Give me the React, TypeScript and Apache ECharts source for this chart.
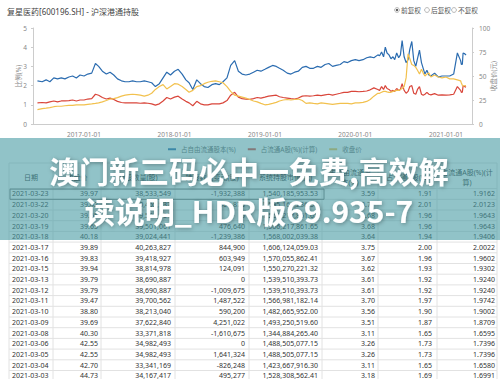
import React, { useEffect, useRef } from 'react';
import * as echarts from 'echarts';

const dates = [
  '2016-06-27','2016-07-16','2016-08-01','2016-08-16','2016-09-01','2016-09-16','2016-10-01','2016-10-16','2016-11-01','2016-11-16','2016-12-01','2016-12-16',
  '2017-01-01','2017-01-16','2017-02-01','2017-02-16','2017-03-01','2017-03-16','2017-04-01','2017-04-16','2017-05-01','2017-05-16','2017-06-01','2017-06-16',
  '2017-07-01','2017-07-16','2017-08-01','2017-08-16','2017-09-01','2017-09-16','2017-10-01','2017-10-16','2017-11-01','2017-11-16','2017-12-01','2017-12-16',
  '2018-01-01','2018-01-16','2018-02-01','2018-02-16','2018-03-01','2018-03-16','2018-04-01','2018-04-16','2018-05-01','2018-05-16','2018-06-01','2018-06-16',
  '2018-07-01','2018-07-16','2018-08-01','2018-08-16','2018-09-01','2018-09-16','2018-10-01','2018-10-16','2018-11-01','2018-11-16','2018-12-01','2018-12-16',
  '2019-01-01','2019-01-16','2019-02-01','2019-02-16','2019-03-01','2019-03-16','2019-04-01','2019-04-16','2019-05-01','2019-05-16','2019-06-01','2019-06-16',
  '2019-07-01','2019-07-16','2019-08-01','2019-08-16','2019-09-01','2019-09-16','2019-10-01','2019-10-16','2019-11-01','2019-11-16','2019-12-01','2019-12-16',
  '2020-01-01','2020-01-16','2020-02-01','2020-02-16','2020-03-01','2020-03-16',
  '2020-04-01','2020-04-08','2020-04-16','2020-04-24','2020-05-01','2020-05-08','2020-05-16','2020-05-24','2020-06-01','2020-06-08','2020-06-16','2020-06-24',
  '2020-07-01','2020-07-08','2020-07-16','2020-07-24','2020-08-01','2020-08-08','2020-08-16','2020-08-24','2020-09-01','2020-09-08','2020-09-16','2020-09-24',
  '2020-10-01','2020-10-08','2020-10-16','2020-10-24','2020-11-01','2020-11-16','2020-12-01','2020-12-16',
  '2021-01-01','2021-01-16','2021-02-01','2021-02-16','2021-03-01','2021-03-04','2021-03-08','2021-03-11','2021-03-16','2021-03-23'
];

const freeFloatPct = [
  2.25,2.2,2.3,2.2,2.4,2.35,2.4,2.35,2.45,2.5,2.4,2.55,
  2.5,2.6,2.65,3.15,3.0,2.75,2.6,2.7,2.55,2.35,2.25,2.2,
  2.2,2.25,2.2,2.2,2.25,2.2,2.15,1.95,2.1,2.4,2.7,2.55,
  2.75,2.85,2.6,2.3,2.15,1.8,2.3,2.1,1.95,1.9,2.05,2.1,
  2.05,2.2,2.4,3.05,3.3,2.75,2.6,2.55,2.6,2.7,2.8,2.75,
  2.85,2.95,3.05,3.0,2.9,2.8,2.65,2.6,2.7,2.75,2.95,3.0,
  2.9,2.9,3.0,2.95,3.1,3.15,3.0,3.05,3.1,3.25,3.2,3.3,
  3.35,3.3,3.35,3.45,3.5,3.45,
  3.6,3.55,3.75,3.5,4.0,3.7,3.6,3.4,3.5,3.35,3.7,3.45,
  3.6,4.35,3.5,3.2,3.35,3.9,4.3,3.3,3.0,3.4,3.85,3.2,
  2.9,2.6,2.8,2.55,2.5,2.65,2.45,2.5,
  2.5,2.5,2.6,3.7,3.3,3.11,3.11,3.7,3.67,3.59
];

const aSharePct = [
  1.1,1.12,1.1,1.15,1.2,1.15,1.2,1.2,1.22,1.25,1.2,1.25,
  1.25,1.3,1.32,1.55,1.5,1.38,1.3,1.35,1.28,1.18,1.12,1.1,
  1.1,1.1,1.1,1.08,1.1,1.08,1.05,0.98,1.05,1.2,1.38,1.3,
  1.4,1.45,1.3,1.18,1.1,0.95,1.18,1.05,1.0,1.0,1.05,1.05,
  1.05,1.1,1.22,1.5,1.65,1.4,1.32,1.3,1.28,1.32,1.38,1.35,
  1.4,1.45,1.48,1.5,1.42,1.38,1.35,1.32,1.3,1.35,1.45,1.47,
  1.45,1.47,1.5,1.48,1.52,1.55,1.5,1.55,1.6,1.65,1.65,1.7,
  1.7,1.68,1.7,1.72,1.78,1.88,
  1.8,1.75,1.95,1.8,2.0,1.85,1.8,1.7,1.75,1.7,1.85,1.75,
  1.8,2.1,1.75,1.6,1.7,1.95,2.0,1.6,1.55,1.8,1.95,1.55,
  1.5,1.55,1.65,1.55,1.52,1.58,1.5,1.52,
  1.5,1.52,1.55,1.95,1.75,1.65,1.66,1.97,1.96,1.91
];

const closePrice = [
  15,16,16.5,17,18,18.5,18.5,19,19.5,19.5,20,20,
  20,20.5,21,21.5,22,23,24.5,26,26.5,27.5,29,30,
  30.5,31,30.5,30,29,30,32,36,39,41,36.5,39,
  42,41.5,39,36,33,35,39,40,42,43.5,44.5,45,
  44,43,39,34,30,29,28,27,25.5,24,23,21.5,
  20,20.5,21.5,22.5,24,25,25.5,25,25.5,26,24.5,21.5,
  22,21.5,21,22,21.5,21,20.5,21,21.5,21.5,21.5,21,
  22,22,22.5,23.5,25.5,29,
  32,32,33,34,34,33.5,33,33,34,34.5,35,35,
  36,37,39,48,73,68,62,61,59,56,52,57,
  53,50,52,53,49,51,49,48,
  49,47,47,46,45,42.7,40.3,39.47,39.83,39.97
];

const legendNames = ['占自由流通股本(%)', '占流通A股(%)(计算)', '收盘价'];
const seriesColors = ['#2b6cb0', '#d9463b', '#f2c14e'];

const tableHeaders = [['日期'], ['收盘价'], ['持股数量(股)'], ['持股数量变动(股)'], ['系统持股市值(元)'], ['占自由流通股', '本(%)'], ['占流通A股(%)'], ['占流通A股(%)(计', '算)']];
const tableDates = ['2021-03-23','2021-03-22','2021-03-20','2021-03-19','2021-03-18','2021-03-17','2021-03-16','2021-03-15','2021-03-13','2021-03-12','2021-03-11','2021-03-10','2021-03-09','2021-03-08','2021-03-06','2021-03-05','2021-03-04','2021-03-03'];
const tableClose = ['39.97','39.42','39.65','39.65','40.18','39.89','39.83','39.94','39.79','39.79','39.47','38.80','39.69','40.30','42.55','42.55','42.70','44.73'];
const tableShares = ['38,533,549','40,465,937','39,501,061','39,501,061','39,024,441','40,263,827','39,418,927','38,814,978','38,690,887','38,690,887','39,700,562','38,213,040','37,622,840','33,371,818','34,982,493','34,982,493','33,341,169','34,167,417'];
const tableChange = ['-1,932,388','964,876','0','476,640','-1,239,386','844,900','603,949','124,091','0','-1,009,675','1,487,522','590,200','4,251,022','-1,610,675','0','1,641,324','-826,248','495,277'];
const tableValue = ['1,540,185,953.53','1,595,167,236.54','1,566,217,861.65','1,566,217,861.65','1,568,002,039.38','1,606,124,059.03','1,570,055,862.41','1,550,270,221.32','1,539,510,393.73','1,539,510,393.73','1,566,981,182.14','1,482,665,952.00','1,493,250,519.60','1,344,884,265.40','1,488,505,077.15','1,488,505,077.15','1,423,667,916.30','1,528,308,562.41'];
const tableFree = ['3.59','3.77','3.68','3.68','3.64','3.75','3.67','3.62','3.61','3.61','3.70','3.56','3.51','3.11','3.26','3.26','3.11','3.18'];
const tableA = ['1.91','2.01','1.96','1.96','1.94','2.00','1.96','1.93','1.92','1.92','1.97','1.90','1.87','1.65','1.73','1.73','1.65','1.69'];
const tableACalc = ['1.9162','2.0123','1.9643','1.9643','1.9406','2.0022','1.9602','1.9302','1.9240','1.9240','1.9742','1.9002','1.8709','1.6595','1.7396','1.7396','1.6580','1.6991'];

const FONT = '"Noto Sans", "Noto Sans CJK SC", sans-serif';
const CJK = '"Noto Sans CJK SC", "Noto Sans", sans-serif';

function txt(x: number, y: number, text: string, size: number, fill: string, align: string, z = 10, extra: any = {}) {
  return {
    type: 'text', x, y, z, silent: true,
    style: {
      text, fill, fontSize: size, fontFamily: FONT,
      align, textAlign: align, verticalAlign: 'middle', textVerticalAlign: 'middle',
      ...extra,
    },
  };
}

function buildGraphic() {
  const els: any[] = [];
  els.push(txt(7, 11, '复星医药[600196.SH] - 沪深港通持股', 8, '#444', 'left'));
  const radios = [[397, '前复权'], [427, '后复权'], [454, '不复权']] as [number, string][];
  radios.forEach(([cx, label], i) => {
    els.push({ type: 'circle', z: 10, shape: { cx, cy: 10, r: 2.4 }, style: { fill: '#fff', stroke: '#999', lineWidth: 0.7 } });
    if (i === 0) els.push({ type: 'circle', z: 11, shape: { cx, cy: 10, r: 1.2 }, style: { fill: '#555' } });
    els.push(txt(cx + 4, 10, label, 6.7, '#555', 'left'));
  });

  const bounds = [9, 53, 101, 175, 249, 322, 378, 437, 497];
  const headTop = 163;
  const rowTop = 188.6;
  const rowH = 10.7;
  const nRows = tableDates.length;
  const lineColor = '#e2e2e2';
  els.push({ type: 'line', z: 5, shape: { x1: bounds[0], y1: headTop, x2: bounds[8], y2: headTop }, style: { stroke: lineColor, lineWidth: 1 } });
  for (let i = 0; i <= nRows; i++) {
    const y = rowTop + rowH * i;
    els.push({ type: 'line', z: 5, shape: { x1: bounds[0], y1: y, x2: bounds[8], y2: y }, style: { stroke: lineColor, lineWidth: 1 } });
  }
  bounds.forEach((bx) => {
    els.push({ type: 'line', z: 5, shape: { x1: bx, y1: headTop, x2: bx, y2: 379 }, style: { stroke: lineColor, lineWidth: 1 } });
  });
  tableHeaders.forEach((lines, c) => {
    const cx = c === 0 ? 31 : (bounds[c] + bounds[c + 1]) / 2;
    if (lines.length === 1) {
      els.push(txt(cx, 177, lines[0], 7, '#333', 'center'));
    } else {
      els.push(txt(cx, 172, lines[0], 7, '#333', 'center'));
      els.push(txt(cx, 182, lines[1], 7, '#333', 'center'));
    }
  });
  const cols = [tableClose, tableShares, tableChange, tableValue, tableFree, tableA, tableACalc];
  const rights = [98, 171, 245, 318, 375, 432, 495];
  for (let r = 0; r < nRows; r++) {
    const y = rowTop + rowH * r + rowH / 2;
    els.push(txt(12, y, tableDates[r], 7, '#333', 'left'));
    cols.forEach((col, c) => {
      els.push(txt(rights[c], y, col[r], 7, '#333', 'right'));
    });
  }
  els.push({ type: 'rect', z: 6, shape: { x: 10, y: rowTop + 0.5, width: 314, height: rowH - 0.5 }, style: { fill: 'none', stroke: '#777', lineWidth: 1 } });

  els.push({ type: 'rect', z: 100, shape: { x: 0, y: 138, width: 500, height: 102 }, style: { fill: 'rgba(72,155,163,0.6)' } });
  const big = (y: number, t: string) => ({
    type: 'text', x: 249, y, z: 101, silent: true,
    style: {
      text: t, fill: '#ffffff', fontSize: 30, fontWeight: 'bold', fontFamily: CJK,
      align: 'center', textAlign: 'center', verticalAlign: 'middle', textVerticalAlign: 'middle',
      textShadowColor: 'rgba(0,0,0,0.35)', textShadowBlur: 4, textShadowOffsetX: 1, textShadowOffsetY: 1,
    },
  });
  els.push(big(170, '澳门新三码必中一免费,高效解'));
  els.push(big(210, '读说明_HDR版69.935-7'));
  return els;
}

export default function App() {
  const ref = useRef<HTMLDivElement>(null);
  useEffect(() => {
    if (!ref.current) return;
    const chart = echarts.init(ref.current, undefined, { renderer: 'svg' });
    const pad = (n: number) => (n < 10 ? '0' + n : '' + n);
    const axisLabelStyle = { fontSize: 6.5, color: '#888', fontFamily: FONT };
    const mk = (arr: number[]) => dates.map((d, i) => [d, arr[i]]);
    chart.setOption({
      animation: false,
      backgroundColor: '#ffffff',
      grid: { left: 33, right: 28, top: 28, bottom: 255, containLabel: false, outerBoundsMode: 'none' },
      legend: {
        top: 146, left: 168, padding: 0, itemWidth: 8, itemHeight: 2, itemGap: 12, icon: 'rect',
        textStyle: { fontSize: 6.5, color: '#666', fontFamily: FONT },
        data: legendNames,
      },
      xAxis: {
        type: 'time',
        min: new Date(2016, 5, 9).getTime(),
        max: new Date(2021, 3, 16).getTime(),
        splitNumber: 5,
        axisLine: { lineStyle: { color: '#ccc' } },
        axisTick: { show: false },
        splitLine: { show: false },
        axisLabel: {
          ...axisLabelStyle, margin: 7,
          formatter: (v: number) => {
            const d = new Date(v);
            return d.getFullYear() + '-' + pad(d.getMonth() + 1) + '-' + pad(d.getDate());
          },
        },
      },
      yAxis: [
        {
          type: 'value', min: 0, max: 5, interval: 1, position: 'left',
          name: '比例(%)', nameLocation: 'middle', nameGap: 11, nameMoveOverlap: false,
          nameTextStyle: { fontSize: 6.5, color: '#888', fontFamily: FONT },
          axisLine: { show: true, lineStyle: { color: '#ccc' } },
          axisTick: { show: true, length: 2, lineStyle: { color: '#ccc' } },
          axisLabel: { ...axisLabelStyle, margin: 6 },
          splitLine: { show: false },
        },
        {
          type: 'value', min: 0, max: 100, interval: 25, position: 'right',
          name: '收盘价(元)', nameLocation: 'middle', nameGap: 18, nameMoveOverlap: false,
          nameTextStyle: { fontSize: 6.5, color: '#888', fontFamily: FONT },
          axisLine: { show: true, lineStyle: { color: '#ccc' } },
          axisTick: { show: true, length: 2, lineStyle: { color: '#ccc' } },
          axisLabel: { ...axisLabelStyle, margin: 7 },
          splitLine: { show: false },
        },
      ],
      series: [
        { name: legendNames[0], type: 'line', yAxisIndex: 0, data: mk(freeFloatPct), showSymbol: false, symbol: 'none', lineStyle: { width: 1.2, color: seriesColors[0] }, itemStyle: { color: seriesColors[0] } },
        { name: legendNames[1], type: 'line', yAxisIndex: 0, data: mk(aSharePct), showSymbol: false, symbol: 'none', lineStyle: { width: 1.2, color: seriesColors[1] }, itemStyle: { color: seriesColors[1] } },
        { name: legendNames[2], type: 'line', yAxisIndex: 1, data: mk(closePrice), showSymbol: false, symbol: 'none', lineStyle: { width: 1.2, color: seriesColors[2] }, itemStyle: { color: seriesColors[2] } },
      ],
      graphic: { elements: buildGraphic() },
    });
    return () => chart.dispose();
  }, []);
  return <div ref={ref} style={{ position: 'fixed', left: 0, top: 0, width: 500, height: 379, background: '#fff' }} />;
}
